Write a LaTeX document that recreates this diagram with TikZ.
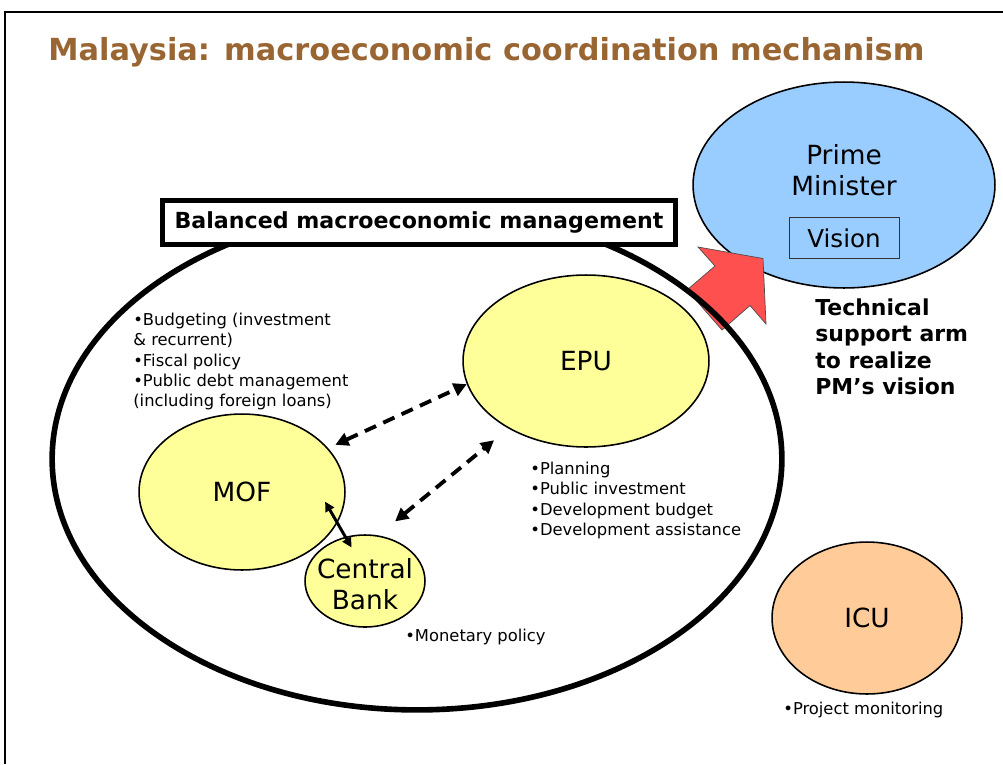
\documentclass[tikz,border=0pt]{standalone}
\usepackage{fontspec}
\setmainfont{DejaVu Sans}
\usetikzlibrary{positioning,arrows.meta,shapes}

\definecolor{titlebrown}{HTML}{996633}
\definecolor{epuyellow}{HTML}{FFFF99}
\definecolor{pmblue}{HTML}{99CCFF}
\definecolor{icuorange}{HTML}{FFCC99}
\definecolor{armred}{HTML}{FF5050}

\begin{document}
\begin{tikzpicture}[x=0.02cm,y=-0.02cm,
    blob/.style 2 args={ellipse,draw=black,line width=0.9pt,inner sep=0pt,
        minimum width=#1*0.04cm,minimum height=#2*0.04cm},
    big/.style={font=\fontsize{15}{18}\selectfont,align=center,inner sep=0pt},
    note/.style={anchor=north west,inner sep=0pt,align=left,
        font=\fontsize{9.3}{11.5}\selectfont},
    link/.style={line width=2.2pt,dash pattern=on 7pt off 4.5pt,
        {Triangle[length=7.5pt,width=7.5pt]}-{Triangle[length=7.5pt,width=7.5pt]}},
    tie/.style={line width=1.7pt,
        {Triangle[length=5.5pt,width=5.5pt]}-{Triangle[length=5.5pt,width=5.5pt]}}]
    \useasboundingbox (0,0) rectangle (1003,764);
    \draw[line width=1.2pt] (5,764) |- (1003,12);

    \node[anchor=base west,inner sep=0pt,text=titlebrown,
        font=\fontsize{17.3}{20}\selectfont\bfseries] (title) at (48,60)
        {Malaysia: macroeconomic coordination mechanism};

    % prime minister and the arm towards it
    \node[blob={151}{103},fill=pmblue] (pm) at (844,185) {};
    \node[big] (pmname) at (844,170) {Prime\\Minister};
    \node[draw=black!80,line width=0.5pt,fill=pmblue,minimum width=2.2cm,
        minimum height=0.82cm,font=\fontsize{14}{16}\selectfont] (vision) at (844,238) {Vision};
    \draw[fill=armred,draw=black!70,line width=0.4pt]
        (687,290) -- (715,266) -- (698,247) -- (763,258.5) -- (766,324)
        -- (750,305.5) -- (722,330) -- cycle;

    % the management ring
    \node[blob={365}{251},line width=3.2pt] (ring) at (417,459) {};
    \node[draw=black,line width=2.8pt,fill=white,minimum width=10.26cm,
        minimum height=0.88cm,inner sep=0pt,
        font=\fontsize{12.6}{14}\selectfont\bfseries] (mgmt) at (419,222.5)
        {Balanced macroeconomic management};

    \node[blob={123}{86},fill=epuyellow] (epu) at (586,361) {};
    \node[blob={103}{78},fill=epuyellow] (mof) at (242,492) {};
    \node[blob={60}{46},fill=epuyellow] (cb) at (365,581) {};
    \node[blob={95}{76},fill=icuorange] (icu) at (867,618) {};
    \node[big] at (epu) {EPU};
    \node[big] at (mof) {MOF};
    \node[big] at (365,584) {Central\\Bank};
    \node[big] at (icu) {ICU};

    \draw[link,shorten <=4.5pt] (mof.27) -- (epu.191);
    \draw[link,shorten <=12.5pt,shorten >=10.5pt] (cb.74) -- (epu.221);
    \draw[tie,shorten <=-14pt,shorten >=-7pt] (mof.-18) -- (cb.114);

    \node[note] (mofnote) at (133,313) {•Budgeting (investment\\\&{} recurrent)\\•Fiscal policy\\•Public debt management\\(including foreign loans)};
    \node[note] (epunote) at (530,462) {•Planning\\•Public investment\\•Development budget\\•Development assistance};
    \node[note] (cbnote) at (405,629) {•Monetary policy};
    \node[note] (icunote) at (783,702) {•Project monitoring};
    \node[anchor=north west,inner sep=0pt,align=left,
        font=\fontsize{12.5}{15.1}\selectfont\bfseries] (arm) at (815,298)
        {Technical\\support arm\\to realize\\PM’s vision};
\end{tikzpicture}
\end{document}
